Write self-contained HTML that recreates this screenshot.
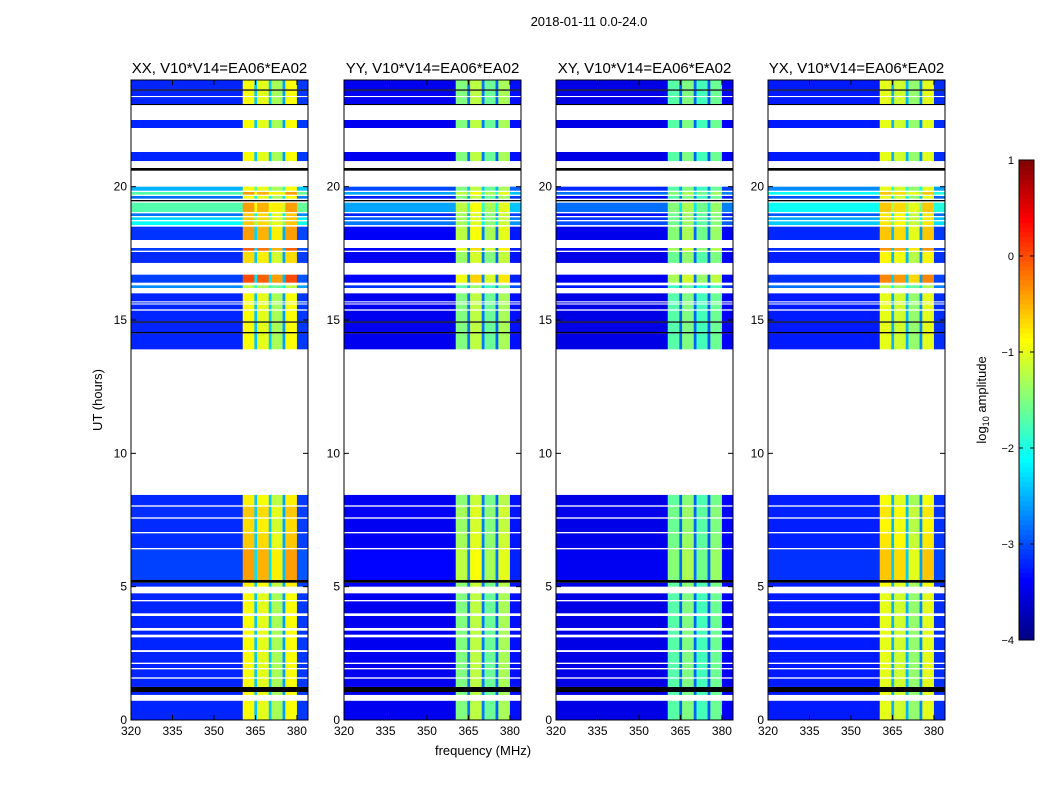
<!DOCTYPE html>
<html><head><meta charset="utf-8"><style>
body{margin:0;background:#fff;}
svg text{font-family:"Liberation Sans",sans-serif;}
</style></head><body>
<svg id="c" width="1050" height="800" xmlns="http://www.w3.org/2000/svg">
<rect width="1050" height="800" fill="#fff"/>
<text x="589" y="26" font-size="13" text-anchor="middle">2018-01-11 0.0-24.0</text>
<text x="483" y="755" font-size="13" text-anchor="middle">frequency (MHz)</text>
<text transform="translate(102,400) rotate(-90)" font-size="13" text-anchor="middle">UT (hours)</text>
<text transform="translate(986,400) rotate(-90)" font-size="13" text-anchor="middle">log<tspan font-size="9" dy="3">10</tspan><tspan dy="-3"> amplitude</tspan></text>
</svg>
<script>
const panelTitles=["XX, V10*V14=EA06*EA02","YY, V10*V14=EA06*EA02","XY, V10*V14=EA06*EA02","YX, V10*V14=EA06*EA02"];
const panelGain=[1,0.6,0.45,0.8];
const bandStart=[320,360.4,364.6,365.6,369.8,370.8,374.8,375.8,380];
const bandEnd=[360.4,364.6,365.6,369.8,370.8,374.8,375.8,380,384];
const bandBright=[0,1,0,1,0,1,0,1,0];
const baseXX=[-3.2,-0.9,-2.4,-1.0,-2.4,-1.3,-2.6,-0.9,-3.1];
const baseYY=[-3.45,-1.5,-2.8,-1.2,-2.8,-1.6,-2.9,-1.3,-3.3];
const baseXY=[-3.5,-1.7,-2.9,-1.5,-2.9,-1.8,-3.0,-1.6,-3.4];
const baseYX=[-3.25,-1.0,-2.5,-1.1,-2.5,-1.4,-2.7,-1.0,-3.15];
const segStart=[0,0.94,1.05,1.24,1.6,1.95,2.15,2.62,3.2,3.45,4.0,4.5,5.0,5.15,5.25,6.45,7.05,7.6,8.05,13.9,14.5,14.55,14.9,14.95,15.4,15.62,15.7,16.2,16.4,17.14,17.6,18.0,18.56,18.75,18.9,19.05,19.45,19.55,19.7,19.85,20.6,20.96,22.2,23.06,23.1,23.4,23.6,23.65];
const segEnd=[0.72,1.05,1.24,1.55,1.9,2.1,2.55,3.1,3.35,3.9,4.45,4.75,5.15,5.25,6.4,7.0,7.55,8.0,8.44,14.5,14.55,14.9,14.95,15.35,15.58,15.66,16.0,16.3,16.7,17.55,17.7,18.5,18.7,18.85,19.0,19.4,19.5,19.65,19.8,20.0,20.7,21.3,22.5,23.1,23.36,23.6,23.65,24];
const segBlack=[0,0,1,0,0,0,0,0,0,0,0,0,0,1,0,0,0,0,0,0,1,0,1,0,0,0,0,0,0,0,0,0,0,0,0,0,1,0,0,0,1,0,0,1,0,0,1,0];
const segGain=[0,0,0,0,0,0,0,0,0,0,0,0,0.1,0,0.5,0.3,0.2,0.3,0.1,0,0,0,0,0,0,0,0,-0.3,0.9,0.2,0.8,0.5,0.3,0.3,0.3,0.5,0,0,0.5,0,0,0,0,0,0,0,0,0];
const segBgGain=[0,0,0,0,0,0,0,0,0,0,0,0,0,0,0.1,0,0,0,0,0,0,0,0,0,0,0,0,0.8,0,0,0,0,1.5,1.2,0.5,2.0,0,0.5,2.0,1.0,0,0,0,0,0,0,0,0];
const xTicks=[320,335,350,365,380];
const yTicks=[0,5,10,15,20];
const cbTicks=[-4,-3,-2,-1,0,1];
const bases=[baseXX,baseYY,baseXY,baseYX];

const svg=document.getElementById('c');
const NS='http://www.w3.org/2000/svg';
function mk(t,a,p){const e=document.createElementNS(NS,t);for(const k in a)e.setAttribute(k,a[k]);(p||svg).appendChild(e);return e;}
function jet(v){let x=(v+4)/5;x=Math.max(0,Math.min(1,x));
 const c=f=>Math.round(255*Math.max(0,Math.min(1,f)));
 return `rgb(${c(1.5-Math.abs(4*x-3))},${c(1.5-Math.abs(4*x-2))},${c(1.5-Math.abs(4*x-1))})`;}
const lefts=[131,344,556,768],W=177,TOP=80,H=640;
for(let p=0;p<4;p++){
 const L=lefts[p];
 const xs=f=>L+(f-320)/64*W;
 const ys=t=>TOP+H-t/24*H;
 const g=mk('g',{});
 
 
 for(let s=0;s<segStart.length;s++){
  for(let b=0;b<bandStart.length;b++){
   let fill;
   if(segBlack[s]) fill='#000';
   else{const v=bases[p][b]+panelGain[p]*(bandBright[b]?segGain[s]:segBgGain[s]*0.7+segGain[s]*0.15);fill=jet(v);}
   const r=mk('rect',{x:xs(bandStart[b]).toFixed(2),y:ys(segEnd[s]).toFixed(2),width:(xs(bandEnd[b])-xs(bandStart[b])+0.3).toFixed(2),height:(ys(segStart[s])-ys(segEnd[s])).toFixed(2),fill:fill},g);
   
   
  }
 }
 const fr=mk('rect',{x:L,y:TOP,width:W,height:H,fill:'none',stroke:'#000','stroke-width':1});
 
 
 const tt=mk('text',{x:L+W/2,y:73,'font-size':15,'text-anchor':'middle'});
 tt.textContent=panelTitles[p];
 
 
 xTicks.forEach(f=>{const x=xs(f);
  mk('line',{x1:x,x2:x,y1:TOP+H,y2:TOP+H-5,stroke:'#000'});
  mk('line',{x1:x,x2:x,y1:TOP,y2:TOP+5,stroke:'#000'});
  const t=mk('text',{x:x,y:TOP+H+15,'font-size':12,'text-anchor':'middle'});t.textContent=f;
  
  });
 yTicks.forEach(v=>{const y=ys(v);
  mk('line',{x1:L,x2:L+5,y1:y,y2:y,stroke:'#000'});
  mk('line',{x1:L+W,x2:L+W-5,y1:y,y2:y,stroke:'#000'});
  const t=mk('text',{x:L-4,y:y+4,'font-size':12,'text-anchor':'end'});t.textContent=v;
  
  });
}
// colorbar
const cbL=1019,cbW=15,cbT=160,cbH=480;
const cy=v=>cbT+cbH-(v+4)/5*cbH;
for(let i=0;i<100;i++){const v=-4+5*i/100;
 const r=mk('rect',{x:cbL,y:cy(v+0.05).toFixed(2),width:cbW,height:(cbH/100+0.5).toFixed(2),fill:jet(v+0.025)});
 
 }
const cbf=mk('rect',{x:cbL,y:cbT,width:cbW,height:cbH,fill:'none',stroke:'#000'});


cbTicks.forEach(v=>{const y=cy(v);
 mk('line',{x1:cbL+cbW-4,x2:cbL+cbW,y1:y,y2:y,stroke:'#000'});
 mk('line',{x1:cbL,x2:cbL+4,y1:y,y2:y,stroke:'#000'});
 const t=mk('text',{x:1014,y:y+4,'font-size':11,'text-anchor':'end'});t.textContent=v<0?'\u2212'+(-v):v;
 
 });
</script>
</body></html>
